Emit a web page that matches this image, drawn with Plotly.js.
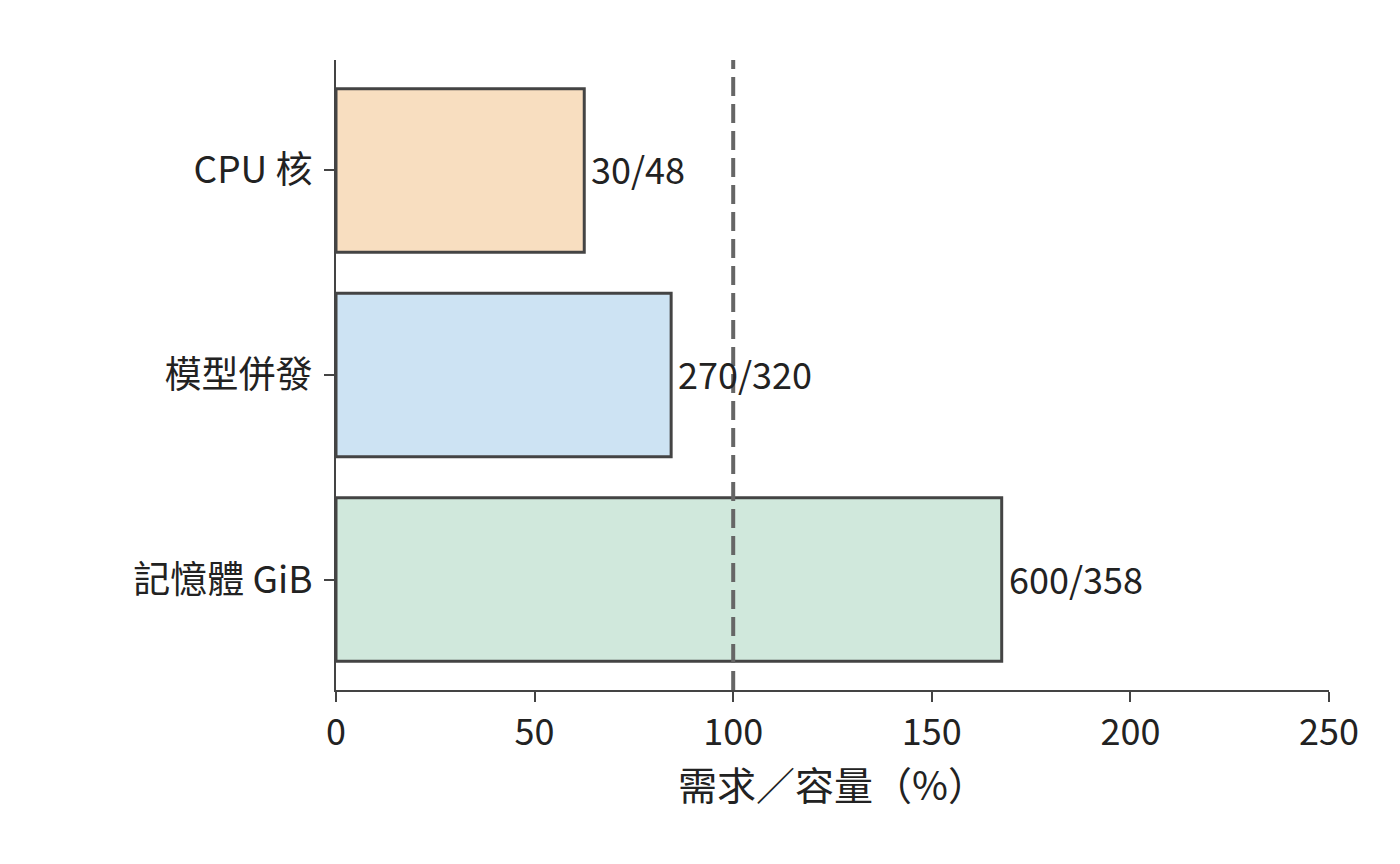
<!DOCTYPE html>
<html>
<head>
<meta charset="utf-8">
<script src="https://cdn.plot.ly/plotly-3.0.1.min.js"></script>
<style>
  html, body { margin: 0; padding: 0; background: #fff; }
  #chart { width: 1400px; height: 864px; }
</style>
</head>
<body>
<div id="chart"></div>
<script>
// Resource demand vs capacity
const categories = ['CPU 核', '模型併發', '記憶體 GiB'];
const demand = [30, 270, 600];
const capacity = [48, 320, 358];
const barColors = ['#f8dec0', '#cde3f3', '#d0e8dc'];
const xTicks = [0, 50, 100, 150, 200, 250];

// percent of capacity used
const ratio = demand.map((d, i) => d / capacity[i] * 100);
const labels = demand.map((d, i) => d + '/' + capacity[i]);

const FONT = '"Noto Sans CJK TC", "Noto Sans CJK SC", "Noto Sans", sans-serif';
const AXIS = '#444444';

const trace = {
    type: 'bar',
    orientation: 'h',
    y: categories,
    x: ratio,
    width: 0.8,
    marker: {
        color: barColors,
        line: { color: AXIS, width: 3 }
    },
    hoverinfo: 'skip'
};

// value labels just right of each bar end
const annotations = categories.map((c, i) => ({
    x: ratio[i],
    y: c,
    xref: 'x',
    yref: 'y',
    text: labels[i],
    showarrow: false,
    xanchor: 'left',
    yanchor: 'middle',
    xshift: 5,
    yshift: 2,
    font: { family: FONT, size: 36, color: '#222222' }
}));

const layout = {
    width: 1400,
    height: 864,
    margin: { l: 336, r: 71, t: 60, b: 174 },
    paper_bgcolor: '#ffffff',
    plot_bgcolor: '#ffffff',
    font: { family: FONT, size: 36, color: '#222222' },
    showlegend: false,
    xaxis: {
        range: [0, 250],
        tickvals: xTicks,
        showgrid: false,
        zeroline: false,
        showline: true,
        linecolor: AXIS,
        linewidth: 2,
        ticks: 'outside',
        ticklen: 10,
        tickwidth: 2,
        tickcolor: AXIS,
        tickfont: { size: 36 },
        title: { text: '需求／容量（%）', font: { size: 39 }, standoff: 12 }
    },
    yaxis: {
        type: 'category',
        range: [2.54, -0.54],
        showgrid: false,
        zeroline: false,
        showline: true,
        linecolor: AXIS,
        linewidth: 2,
        ticks: 'outside',
        ticklen: 10,
        tickwidth: 2,
        tickcolor: AXIS,
        ticklabelstandoff: 4,
        tickfont: { size: 37 }
    },
    annotations: annotations,
    shapes: [{
        type: 'line',
        xref: 'x', yref: 'paper',
        x0: 100, x1: 100, y0: 0, y1: 1,
        layer: 'above',
        line: { color: '#666666', width: 4, dash: '19px,8px' }
    }]
};

Plotly.newPlot('chart', [trace], layout, { displayModeBar: false, staticPlot: true });
</script>
</body>
</html>
